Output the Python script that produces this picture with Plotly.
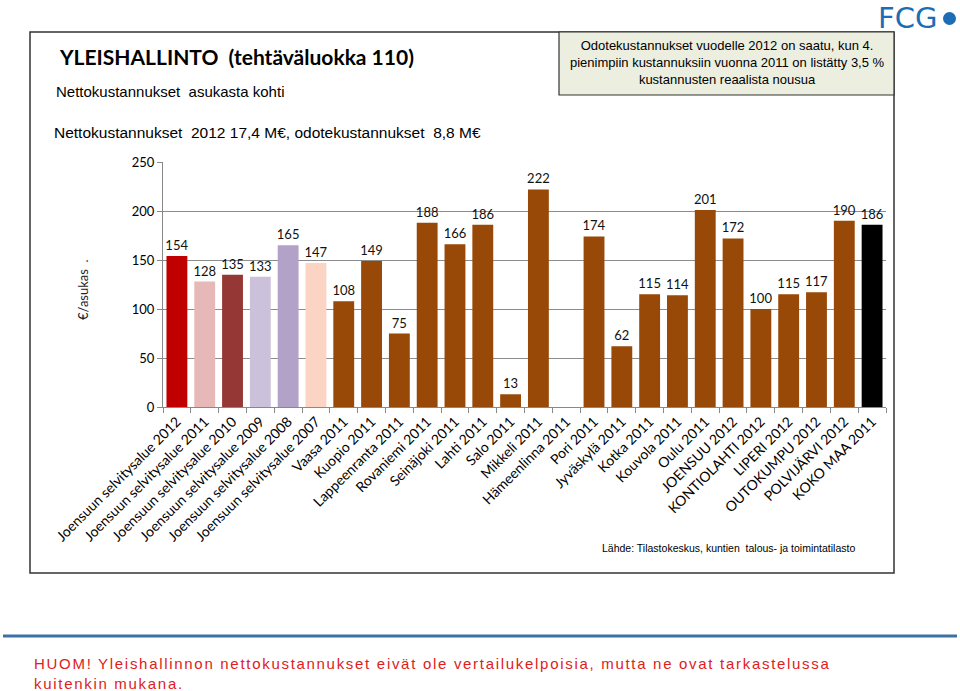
import plotly.graph_objects as go

categories = [
    "Joensuun selvitysalue 2012", "Joensuun selvitysalue 2011", "Joensuun selvitysalue 2010",
    "Joensuun selvitysalue 2009", "Joensuun selvitysalue 2008", "Joensuun selvitysalue 2007",
    "Vaasa 2011", "Kuopio 2011", "Lappeenranta 2011", "Rovaniemi 2011", "Seinäjoki 2011",
    "Lahti 2011", "Salo 2011", "Mikkeli 2011", "Hämeenlinna 2011", "Pori 2011",
    "Jyväskylä 2011", "Kotka 2011", "Kouvola 2011", "Oulu 2011", "JOENSUU 2012",
    "KONTIOLAHTI 2012", "LIPERI 2012", "OUTOKUMPU 2012", "POLVIJÄRVI 2012", "KOKO MAA 2011",
]
values = [154, 128, 135, 133, 165, 147, 108, 149, 75, 188, 166, 186, 13, 222, None,
          174, 62, 115, 114, 201, 172, 100, 115, 117, 190, 186]
bar_colors = ["#C00000", "#E6B9B8", "#953735", "#CCC1DA", "#B3A2C7", "#FBD4C4"] + \
             ["#984807"] * 19 + ["#000000"]
y_ticks = [0, 50, 100, 150, 200, 250]

W, H = 960, 691
ML = 163
MT = 162
MR = W - 886
MB = H - 407
PW, PH = W - ML - MR, H - MT - MB

def px(x):
    return (x - ML) / PW

def py(y):
    return (H - MB - y) / PH

labels = ["" if v is None else str(v) for v in values]

fig = go.Figure()
fig.add_trace(go.Bar(
    x=categories, y=values, marker=dict(color=bar_colors, line=dict(width=0)),
    text=labels, textposition="outside", cliponaxis=False, constraintext="none",
    textfont=dict(family="Lato", size=13, color="#111111"),
    hoverinfo="x+y",
))

shapes = [
    dict(type="rect", xref="paper", yref="paper", x0=px(30), x1=px(894), y0=py(573), y1=py(32),
         line=dict(color="#333333", width=1.5), fillcolor="rgba(0,0,0,0)", layer="below"),
    dict(type="rect", xref="paper", yref="paper", x0=px(559), x1=px(894), y0=py(95), y1=py(32),
         line=dict(color="#333333", width=1.2), fillcolor="#ECEEDF", layer="below"),
    dict(type="line", xref="paper", yref="paper", x0=px(3), x1=px(957), y0=py(636), y1=py(636),
         line=dict(color="#3A72A6", width=3)),
    dict(type="circle", xref="paper", yref="paper", x0=px(943), x1=px(956), y0=py(25), y1=py(12),
         line=dict(width=0), fillcolor="#1C6DB5"),
]

def ann(text, x, y, **kw):
    d = dict(text=text, x=px(x), y=py(y), xref="paper", yref="paper", showarrow=False,
             xanchor=kw.pop("xanchor", "left"), yanchor=kw.pop("yanchor", "middle"))
    d.update(kw)
    return d

red_style = "letter-spacing:1.7px"
annotations = [
    ann("<b>YLEISHALLINTO  (tehtäväluokka 110)</b>", 57, 57,
        font=dict(family="Lato", size=21, color="#000000")),
    ann("Nettokustannukset  asukasta kohti", 54, 91,
        font=dict(family="Liberation Sans", size=15, color="#000000")),
    ann("Nettokustannukset  2012 17,4 M€, odotekustannukset  8,8 M€", 52, 133,
        font=dict(family="Liberation Sans", size=15.5, color="#000000")),
    ann("Odotekustannukset vuodelle 2012 on saatu, kun 4.<br>pienimpiin kustannuksiin vuonna 2011 on listätty 3,5 %<br>kustannusten reaalista nousua",
        727, 62, xanchor="center", align="center",
        font=dict(family="Liberation Sans", size=13, color="#000000")),
    ann("FCG", 876, 18, xanchor="left",
        font=dict(family="DejaVu Sans", size=29, color="#1C6DB5")),
    ann("€/asukas  .", 83, 290, xanchor="center", textangle=-90,
        font=dict(family="Lato", size=13, color="#222222")),
    ann("Lähde: Tilastokeskus, kuntien  talous- ja toimintatilasto", 600, 548,
        font=dict(family="Liberation Sans", size=10.5, color="#000000")),
    ann(f"<span style='{red_style}'>HUOM! Yleishallinnon nettokustannukset eivät ole vertailukelpoisia, mutta ne ovat tarkastelussa</span><br><span style='{red_style}'>kuitenkin mukana.</span>",
        32, 673, align="left", font=dict(family="Liberation Sans", size=15, color="#E0201B")),
]

fig.update_layout(
    width=W, height=H, margin=dict(l=ML, r=MR, t=MT, b=MB, autoexpand=False),
    paper_bgcolor="white", plot_bgcolor="white", showlegend=False,
    bargap=0.25, shapes=shapes, annotations=annotations,
    xaxis=dict(type="category", tickangle=-45, ticks="outside", tickson="boundaries",
               ticklen=5, tickcolor="#888888", showline=True, linecolor="#888888", linewidth=1,
               tickfont=dict(family="Lato", size=14, color="#000000"), automargin=False,
               showgrid=False),
    yaxis=dict(range=[0, 250], tickvals=y_ticks, ticks="outside", ticklen=5, tickcolor="#888888",
               showline=True, linecolor="#888888", linewidth=1, showgrid=True,
               gridcolor="#8C8C8C", gridwidth=1, zeroline=False,
               tickfont=dict(family="Lato", size=13, color="#000000"), automargin=False),
)

fig.write_html(
    "out.html",
    config={"displayModeBar": False},
    post_script="document.body.style.margin='0';document.body.style.overflow='hidden';",
)
